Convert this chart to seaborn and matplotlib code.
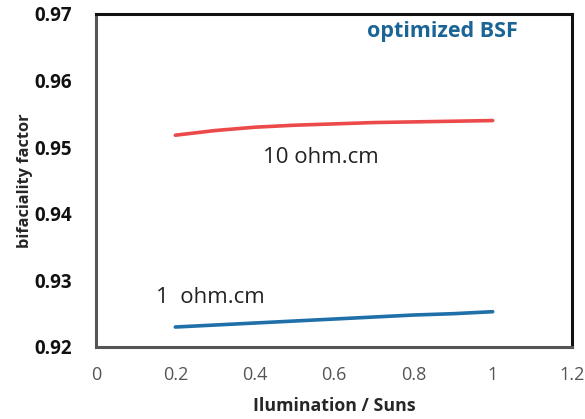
import matplotlib
matplotlib.use("Agg")
import matplotlib.pyplot as plt
import numpy as np
import pandas as pd
import seaborn as sns

# Bifaciality factor vs illumination for two base resistivities
illumination = [0.2, 0.3, 0.4, 0.5, 0.6, 0.7, 0.8, 0.9, 1.0]
bf_10ohm = [0.9518, 0.9525, 0.9530, 0.9533, 0.9535, 0.9537, 0.9538, 0.9539, 0.9540]
bf_1ohm = [0.9230, 0.9233, 0.9236, 0.9239, 0.9242, 0.9245, 0.9248, 0.9250, 0.9253]

x_ticks = [0, 0.2, 0.4, 0.6, 0.8, 1.0, 1.2]
x_tick_labels = ["0", "0.2", "0.4", "0.6", "0.8", "1", "1.2"]
y_ticks = [0.92, 0.93, 0.94, 0.95, 0.96, 0.97]

df = pd.DataFrame({
    "x": illumination * 2,
    "y": bf_10ohm + bf_1ohm,
    "series": ["10 ohm.cm"] * len(illumination) + ["1 ohm.cm"] * len(illumination),
})

sns.set_style("white")
plt.rcParams["font.family"] = ["Open Sans", "DejaVu Sans"]

fig = plt.figure(figsize=(5.85, 4.19), dpi=100)
ax = fig.add_axes([96 / 585, 1 - 347 / 419, 476 / 585, 333 / 419])

sns.lineplot(data=df, x="x", y="y", hue="series",
             palette={"10 ohm.cm": "#ec4a4a", "1 ohm.cm": "#1f6fa8"},
             linewidth=2.6, legend=False, ax=ax)

ax.set_xlim(0, 1.2)
ax.set_ylim(0.92, 0.97)
ax.set_xticks(x_ticks)
ax.set_xticklabels(x_tick_labels)
ax.set_xticks(np.arange(0.1, 1.2, 0.2), minor=True)
ax.set_yticks(y_ticks)
ax.set_yticklabels([f"{v:.2f}" for v in y_ticks])

ax.tick_params(axis="x", which="both", direction="in", length=5, width=1,
               color="#a0a0a0", labelsize=13, labelcolor="#555555", pad=14)
ax.tick_params(axis="y", direction="in", length=5, width=1, color="#a0a0a0",
               labelsize=13.5, labelcolor="#111111", pad=17)
for lab in ax.get_yticklabels():
    lab.set_fontweight("bold")

for side in ["left", "bottom"]:
    ax.spines[side].set_linewidth(2.2)
    ax.spines[side].set_color("#555555")
for side in ["top", "right"]:
    ax.spines[side].set_linewidth(2.2)
    ax.spines[side].set_color("#111111")

ax.set_xlabel("Ilumination / Suns", fontsize=12.8, fontweight="bold", labelpad=9)
ax.set_ylabel("bifaciality factor", fontsize=11.8, fontweight="bold", labelpad=1)

ax.text(0.567, 0.9484, "10 ohm.cm", fontsize=16, color="#222222",
        ha="center", va="center")
ax.text(0.288, 0.9274, "1  ohm.cm", fontsize=16, color="#222222",
        ha="center", va="center")
ax.text(0.872, 0.9673, "optimized BSF", fontsize=15.5, fontweight="bold",
        color="#1a6496", ha="center", va="center")

fig.savefig("out.png", dpi=100)
